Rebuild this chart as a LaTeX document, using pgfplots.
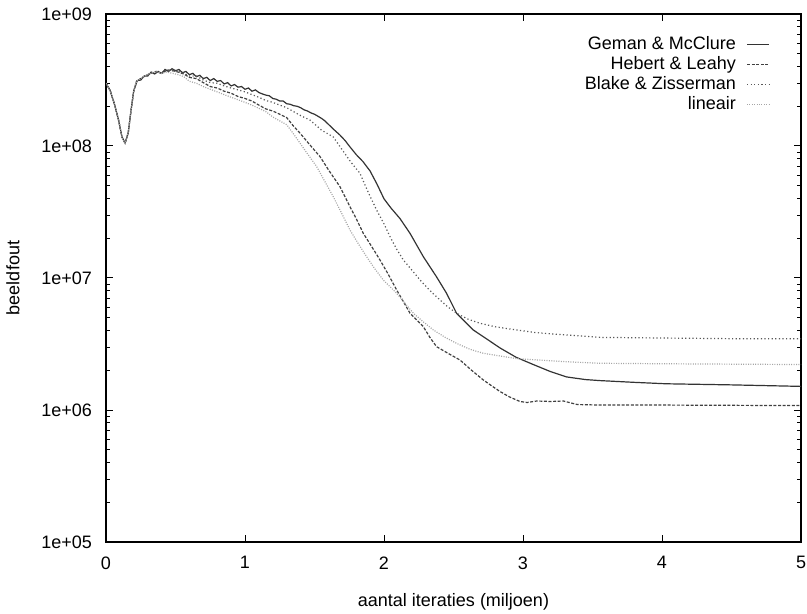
\documentclass[border=0pt]{standalone}
\usepackage{fontspec}
\setmainfont{Liberation Sans}
\usepackage{pgfplots}
\pgfplotsset{compat=1.18}
\begin{document}
\begin{tikzpicture}
\begin{axis}[
  name=ax,
  scale only axis, width=347.5pt, height=264pt,
  xmin=0, xmax=5, ymode=log, ymin=1e5, ymax=1e9,
  xtick={0,1,2,3,4,5}, xticklabels={0,1,2,3,4,5},
  ytick={1e5,1e6,1e7,1e8,1e9},
  yticklabels={1e+05,1e+06,1e+07,1e+08,1e+09},
  tick align=inside, major tick length=3.5pt, minor tick length=2pt,
  every tick/.style={black, line width=0.5pt},
  axis line style={line width=0.6pt},
  font=\fontsize{9}{10}\selectfont,
  x tick label style={anchor=north, yshift=-3.7pt},
  y tick label style={anchor=east, xshift=-3.5pt},
  xlabel={aantal iteraties (miljoen)},
  ylabel={beeldfout},
  xlabel style={at={(axis description cs:0.5,-0.1136)}, anchor=center},
  ylabel style={at={(axis description cs:-0.1338,0.5)}, anchor=center},
  no markers,
  legend plot pos=right,
  legend cell align=right,
  legend image code/.code={\draw[#1] (0pt,0pt) -- (11pt,0pt);},
  legend style={at={(0.9554,0.962)}, anchor=north east, draw=none, fill=none,
    inner sep=0pt, row sep=0pt,
    nodes={inner sep=0.3pt, text height=0.72em, text depth=0.22em},
    /tikz/every odd column/.append style={column sep=5pt}},
]
% Geman & McClure
\addplot[black!80, line width=0.6pt] coordinates {
(0,2.99e8) (0.03,2.63e8) (0.06,2.09e8) (0.09,1.58e8) (0.115,1.17e8) (0.137,1.05e8)
(0.16,1.26e8) (0.18,1.86e8) (0.20,2.63e8) (0.225,3.13e8) (0.25,3.16e8) (0.275,3.39e8)
(0.30,3.39e8) (0.325,3.63e8) (0.35,3.51e8) (0.375,3.67e8) (0.40,3.55e8) (0.425,3.80e8)
(0.45,3.67e8) (0.475,3.85e8) (0.50,3.72e8) (0.525,3.80e8) (0.55,3.59e8) (0.575,3.67e8)
(0.60,3.47e8) (0.625,3.55e8) (0.65,3.35e8) (0.675,3.43e8) (0.70,3.24e8) (0.725,3.31e8)
(0.75,3.13e8) (0.775,3.24e8) (0.80,3.09e8) (0.825,3.13e8) (0.85,2.95e8) (0.875,3.02e8)
(0.90,2.85e8) (0.925,2.92e8) (0.95,2.79e8) (0.975,2.82e8) (1.00,2.69e8) (1.025,2.75e8)
(1.05,2.60e8) (1.075,2.66e8) (1.10,2.54e8) (1.125,2.48e8) (1.15,2.43e8) (1.175,2.40e8)
(1.20,2.29e8) (1.225,2.26e8) (1.25,2.19e8) (1.275,2.19e8) (1.30,2.09e8) (1.325,2.07e8)
(1.35,2.02e8) (1.375,2.0e8) (1.40,1.95e8) (1.425,1.88e8) (1.45,1.84e8) (1.475,1.78e8)
(1.50,1.74e8) (1.525,1.68e8) (1.55,1.62e8) (1.575,1.55e8) (1.60,1.46e8) (1.64,1.33e8)
(1.683,1.21e8) (1.72,1.10e8) (1.75,1.0e8) (1.80,8.61e7) (1.85,7.59e7) (1.90,6.46e7)
(1.95,5.13e7) (2.0,3.98e7) (2.05,3.39e7) (2.115,2.82e7) (2.187,2.18e7) (2.283,1.45e7)
(2.378,1.02e7) (2.45,7.66e6) (2.522,5.41e6) (2.642,4.04e6) (2.75,3.39e6) (2.835,2.95e6)
(2.95,2.51e6) (3.074,2.21e6) (3.2,1.95e6) (3.314,1.78e6) (3.45,1.70e6) (3.554,1.67e6)
(3.8,1.62e6) (4.03,1.58e6) (4.5,1.55e6) (5.0,1.51e6)
};
\addlegendentry{Geman \& McClure}
% Hebert & Leahy
\addplot[black!75, line width=0.6pt, dash pattern=on 1.5pt off 0.8pt] coordinates {
(0,2.99e8) (0.03,2.63e8) (0.06,2.09e8) (0.09,1.58e8) (0.115,1.17e8) (0.137,1.05e8)
(0.16,1.26e8) (0.18,1.86e8) (0.20,2.63e8) (0.22,3.09e8) (0.25,3.24e8) (0.28,3.39e8)
(0.32,3.55e8) (0.36,3.67e8) (0.40,3.55e8) (0.44,3.77e8) (0.48,3.72e8)
(0.52,3.63e8) (0.56,3.51e8) (0.60,3.31e8) (0.65,3.24e8) (0.70,3.02e8) (0.75,2.82e8)
(0.80,2.75e8) (0.85,2.6e8) (0.90,2.51e8) (0.95,2.37e8) (1.00,2.29e8) (1.05,2.19e8)
(1.10,2.04e8) (1.15,1.91e8) (1.20,1.84e8) (1.25,1.74e8) (1.30,1.64e8) (1.35,1.41e8)
(1.396,1.25e8) (1.45,1.07e8) (1.49,9.55e7) (1.54,8.3e7) (1.60,6.61e7) (1.683,4.92e7)
(1.755,3.47e7) (1.80,2.82e7) (1.851,2.18e7) (1.91,1.74e7) (1.971,1.37e7) (2.03,1.07e7)
(2.091,8.11e6) (2.14,6.61e6) (2.187,5.41e6) (2.283,4.28e6) (2.33,3.55e6) (2.378,3.02e6)
(2.46,2.69e6) (2.547,2.39e6) (2.63,2.0e6) (2.714,1.69e6) (2.78,1.51e6) (2.835,1.38e6)
(2.90,1.26e6) (2.978,1.16e6) (3.03,1.14e6) (3.10,1.17e6) (3.20,1.16e6) (3.29,1.17e6)
(3.39,1.10e6) (3.554,1.09e6) (4.0,1.09e6) (5.0,1.08e6)
};
\addlegendentry{Hebert \& Leahy}
% Blake & Zisserman
\addplot[black!65, line width=0.6pt, dash pattern=on 0.6pt off 1.2pt] coordinates {
(0,2.99e8) (0.03,2.63e8) (0.06,2.09e8) (0.09,1.58e8) (0.115,1.17e8) (0.137,1.05e8)
(0.16,1.26e8) (0.18,1.86e8) (0.20,2.63e8) (0.22,3.09e8) (0.25,3.24e8) (0.28,3.39e8)
(0.32,3.55e8) (0.36,3.67e8) (0.40,3.55e8) (0.44,3.77e8) (0.48,3.72e8)
(0.52,3.67e8) (0.56,3.55e8) (0.60,3.39e8) (0.65,3.39e8) (0.70,3.16e8) (0.75,3.02e8)
(0.80,2.99e8) (0.85,2.85e8) (0.90,2.75e8) (0.95,2.66e8) (1.00,2.57e8) (1.05,2.45e8)
(1.10,2.34e8) (1.15,2.21e8) (1.20,2.14e8) (1.25,2.04e8) (1.30,1.95e8) (1.35,1.82e8)
(1.40,1.70e8) (1.468,1.57e8) (1.55,1.32e8) (1.635,1.17e8) (1.70,9.33e7) (1.76,7.59e7)
(1.827,6.21e7) (1.89,4.37e7) (1.947,3.27e7) (2.0,2.57e7) (2.043,2.06e7) (2.09,1.66e7)
(2.139,1.37e7) (2.2,1.15e7) (2.259,9.66e6) (2.33,8.04e6) (2.403,6.81e6) (2.46,6.03e6)
(2.522,5.41e6) (2.60,4.9e6) (2.69,4.54e6) (2.80,4.27e6) (2.954,4.04e6) (3.1,3.85e6)
(3.314,3.70e6) (3.554,3.55e6) (4.0,3.51e6) (4.5,3.47e6) (5.0,3.47e6)
};
\addlegendentry{Blake \& Zisserman}
% lineair
\addplot[black!35, line width=0.6pt, dash pattern=on 0.5pt off 0.7pt] coordinates {
(0,2.99e8) (0.03,2.63e8) (0.06,2.09e8) (0.09,1.58e8) (0.115,1.17e8) (0.137,1.05e8)
(0.16,1.26e8) (0.18,1.86e8) (0.20,2.63e8) (0.22,3.09e8) (0.25,3.24e8) (0.28,3.39e8)
(0.32,3.55e8) (0.36,3.67e8) (0.40,3.55e8)
(0.44,3.63e8) (0.48,3.55e8) (0.52,3.47e8) (0.56,3.35e8) (0.60,3.09e8) (0.65,2.99e8)
(0.70,2.82e8) (0.75,2.69e8) (0.80,2.57e8) (0.85,2.45e8) (0.90,2.34e8) (0.95,2.24e8)
(1.00,2.14e8) (1.05,2.04e8) (1.10,1.93e8) (1.15,1.82e8) (1.20,1.66e8) (1.25,1.55e8)
(1.30,1.45e8) (1.35,1.23e8) (1.396,1.05e8) (1.45,8.71e7) (1.516,6.97e7) (1.575,5.37e7)
(1.635,4.13e7) (1.70,3.02e7) (1.755,2.31e7) (1.815,1.82e7) (1.875,1.45e7) (1.935,1.17e7)
(1.995,9.66e6) (2.091,7.66e6) (2.15,6.46e6) (2.211,5.41e6) (2.28,4.68e6) (2.355,4.04e6)
(2.44,3.55e6) (2.522,3.2e6) (2.62,2.88e6) (2.714,2.69e6) (2.954,2.45e6) (3.314,2.32e6)
(3.554,2.26e6) (4.0,2.24e6) (5.0,2.21e6)
};
\addlegendentry{lineair}
\end{axis}
\pgfresetboundingbox
\path[use as bounding box] ([xshift=-53pt,yshift=-35.5pt]ax.south west) rectangle ([xshift=3pt,yshift=7pt]ax.north east);
\end{tikzpicture}
\end{document}
